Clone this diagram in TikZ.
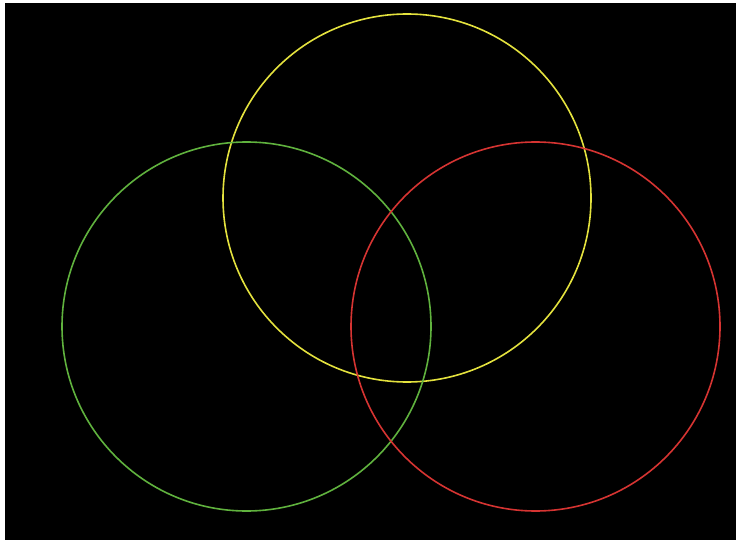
\documentclass[tikz,border=0pt]{standalone}
\usepackage{tikz}

\definecolor{ringyellow}{RGB}{228,226,62}
\definecolor{ringgreen}{RGB}{96,178,62}
\definecolor{ringred}{RGB}{214,52,50}

\begin{document}
\begin{tikzpicture}[
  x=1pt, y=-1pt,
  ring/.style={line width=1.6pt}
]
\useasboundingbox (0,0) rectangle (736,540);
\fill[white] (0,0) rectangle (736,540);
\fill[black] (5,3) rectangle (736,540);
\draw[ring, ringyellow] (407,198) circle (184);
\draw[ring, ringgreen] (246.5,326.5) circle (184.5);
\draw[ring, ringred] (535.5,326.5) circle (184.5);
\end{tikzpicture}
\end{document}
